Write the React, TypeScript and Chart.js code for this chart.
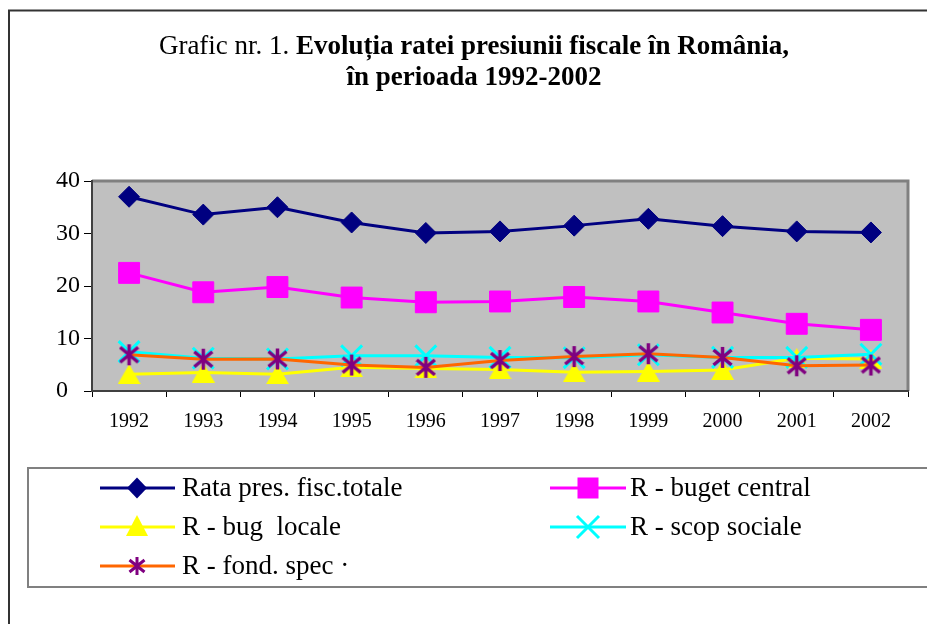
import React, { useEffect, useRef } from 'react';
import { Chart, registerables } from 'chart.js';

Chart.register(...registerables);

const years = ['1992', '1993', '1994', '1995', '1996', '1997', '1998', '1999', '2000', '2001', '2002'];
const rataTotala = [37.0, 33.6, 35.0, 32.1, 30.1, 30.4, 31.5, 32.8, 31.4, 30.4, 30.2];
const bugetCentral = [22.5, 18.8, 19.8, 17.8, 16.9, 17.05, 17.9, 17.05, 14.95, 12.8, 11.65];
const bugLocale = [3.2, 3.5, 3.2, 4.5, 4.3, 4.1, 3.55, 3.7, 4.0, 6.25, 6.1];
const scopSociale = [7.5, 6.25, 6.1, 6.7, 6.7, 6.4, 6.35, 6.9, 6.4, 6.4, 7.0];
const fondSpec = [6.9, 6.05, 6.1, 4.95, 4.5, 5.8, 6.55, 7.1, 6.4, 4.8, 4.95];

const seriesNames = [
  'Rata pres. fisc.totale',
  'R - buget central',
  'R - bug  locale',
  'R - scop sociale',
  'R - fond. spec ·',
];
const yTicks = [0, 10, 20, 30, 40];

const titleNormal = 'Grafic nr. 1. ';
const titleBold1 = 'Evoluția ratei presiunii fiscale în România,';
const titleBold2 = 'în perioada 1992-2002';

const SERIF = "'Liberation Serif', 'Times New Roman', serif";

function makeAsterisk(w: number, h: number, lw: number, color: string) {
  const c = document.createElement('canvas');
  c.width = w;
  c.height = h;
  const g = c.getContext('2d')!;
  g.strokeStyle = color;
  g.lineWidth = lw;
  const mx = w / 2;
  const my = h / 2;
  g.beginPath();
  g.moveTo(mx, 1);
  g.lineTo(mx, h - 1);
  const dx = w / 2 - 1.5;
  const dy = h / 2 - 4;
  g.moveTo(mx - dx, my - dy);
  g.lineTo(mx + dx, my + dy);
  g.moveTo(mx - dx, my + dy);
  g.lineTo(mx + dx, my - dy);
  g.stroke();
  return c;
}

function makeTriangle(w: number, h: number, color: string) {
  const c = document.createElement('canvas');
  c.width = w;
  c.height = h;
  const g = c.getContext('2d')!;
  g.fillStyle = color;
  g.beginPath();
  g.moveTo(w / 2, 0);
  g.lineTo(w, h);
  g.lineTo(0, h);
  g.closePath();
  g.fill();
  return c;
}

export default function App() {
  const ref = useRef<HTMLCanvasElement | null>(null);

  useEffect(() => {
    document.body.style.margin = '0';
    document.body.style.overflow = 'hidden';
    const canvas = ref.current!;

    const asteriskBig = makeAsterisk(21, 23, 3.5, '#800080');
    const asteriskSmall = makeAsterisk(18, 20, 3, '#800080');
    const triBig = makeTriangle(23, 20, '#FFFF00');
    const triSmall = makeTriangle(22, 21, '#FFFF00');

    const colors = ['#000080', '#FF00FF', '#FFFF00', '#00FFFF', '#FF6600'];
    const markerColors = ['#000080', '#FF00FF', '#FFFF00', '#00FFFF', '#800080'];

    const bgPlugin = {
      id: 'bgPlugin',
      beforeDraw(chart: any) {
        const { ctx, chartArea: a } = chart;
        ctx.save();
        ctx.fillStyle = '#ffffff';
        ctx.fillRect(0, 0, chart.width, chart.height);
        ctx.strokeStyle = '#333333';
        ctx.lineWidth = 2;
        ctx.beginPath();
        ctx.moveTo(9, chart.height + 2);
        ctx.lineTo(9, 10.5);
        ctx.lineTo(chart.width + 2, 10.5);
        ctx.stroke();
        ctx.fillStyle = '#C0C0C0';
        ctx.fillRect(a.left, a.top, a.right - a.left, a.bottom - a.top);
        ctx.strokeStyle = '#808080';
        ctx.lineWidth = 3;
        ctx.beginPath();
        ctx.moveTo(a.left, a.top);
        ctx.lineTo(a.right, a.top);
        ctx.lineTo(a.right, a.bottom);
        ctx.stroke();
        ctx.restore();
      },
    };

    const overlayPlugin = {
      id: 'overlayPlugin',
      afterDraw(chart: any) {
        const ctx = chart.ctx;
        ctx.save();
        const cx = 474;
        ctx.fillStyle = '#000';
        ctx.textBaseline = 'alphabetic';
        ctx.textAlign = 'left';
        ctx.font = `27px ${SERIF}`;
        const wN = ctx.measureText(titleNormal).width;
        ctx.font = `bold 27px ${SERIF}`;
        const wB = ctx.measureText(titleBold1).width;
        const x0 = cx - (wN + wB) / 2;
        ctx.font = `27px ${SERIF}`;
        ctx.fillText(titleNormal, x0, 54);
        ctx.font = `bold 27px ${SERIF}`;
        ctx.fillText(titleBold1, x0 + wN, 54);
        ctx.textAlign = 'center';
        ctx.fillText(titleBold2, cx, 85);

        ctx.strokeStyle = '#808080';
        ctx.lineWidth = 2;
        ctx.strokeRect(28, 468, 920, 119);

        const cols = [
          { lx0: 100, lx1: 175, mx: 137, tx: 182 },
          { lx0: 550, lx1: 626, mx: 588, tx: 630 },
        ];
        const rows = [488, 527, 566];
        ctx.font = `27px ${SERIF}`;
        ctx.textAlign = 'left';
        ctx.textBaseline = 'middle';
        chart.data.datasets.forEach((ds: any, i: number) => {
          const col = cols[i % 2];
          const y = rows[Math.floor(i / 2)];
          ctx.strokeStyle = colors[i];
          ctx.lineWidth = 3;
          ctx.beginPath();
          ctx.moveTo(col.lx0, y);
          ctx.lineTo(col.lx1, y);
          ctx.stroke();
          const mc = markerColors[i];
          ctx.fillStyle = mc;
          ctx.strokeStyle = mc;
          const m = col.mx;
          if (i === 0) {
            ctx.beginPath();
            ctx.moveTo(m, y - 10.5);
            ctx.lineTo(m + 10, y);
            ctx.lineTo(m, y + 10.5);
            ctx.lineTo(m - 10, y);
            ctx.closePath();
            ctx.fill();
          } else if (i === 1) {
            ctx.fillRect(m - 10.5, y - 10.5, 21, 21);
          } else if (i === 2) {
            ctx.drawImage(triSmall, m - 11, y - 12);
          } else if (i === 3) {
            ctx.lineWidth = 3;
            ctx.beginPath();
            ctx.moveTo(m - 11, y - 11);
            ctx.lineTo(m + 11, y + 11);
            ctx.moveTo(m - 11, y + 11);
            ctx.lineTo(m + 11, y - 11);
            ctx.stroke();
          } else {
            ctx.drawImage(asteriskSmall, m - 9, y - 10);
          }
          ctx.fillStyle = '#000';
          ctx.fillText(ds.label, col.tx, y + 1);
        });
        ctx.restore();
      },
    };

    const seriesData = [rataTotala, bugetCentral, bugLocale, scopSociale, fondSpec];
    const pointStyles: any[] = ['rectRot', 'rect', triBig, 'crossRot', asteriskBig];
    const pointRadii = [10.5, 14.8, 12, 14.8, 12];
    const pointBorderWidths = [1, 1, 0, 3, 0];
    const orders = [5, 4, 3, 2, 1];

    const datasets = seriesData.map((d, i) => ({
      label: seriesNames[i],
      data: d,
      borderColor: colors[i],
      backgroundColor: colors[i],
      borderWidth: 3,
      tension: 0,
      pointStyle: pointStyles[i],
      pointRadius: pointRadii[i],
      pointBorderWidth: pointBorderWidths[i],
      pointBackgroundColor: markerColors[i],
      pointBorderColor: markerColors[i],
      order: orders[i],
    }));

    const chart = new Chart(canvas, {
      type: 'line',
      data: { labels: years, datasets },
      options: {
        responsive: false,
        animation: false,
        events: [],
        layout: { padding: { left: 56, right: 19, top: 181, bottom: 193 } },
        plugins: {
          legend: { display: false },
          title: { display: false },
          tooltip: { enabled: false },
        },
        scales: {
          x: {
            type: 'category',
            offset: true,
            ticks: {
              color: '#000',
              font: { family: SERIF, size: 20 },
              padding: 13,
              maxRotation: 0,
              autoSkip: false,
            },
            grid: {
              offset: true,
              drawOnChartArea: false,
              drawTicks: true,
              tickLength: 6,
              color: '#000',
              lineWidth: 1,
            },
            border: { display: true, color: '#404040', width: 2 },
            afterFit: (s: any) => {
              s.height = 40;
            },
          },
          y: {
            min: 0,
            max: 40,
            ticks: {
              color: '#000',
              font: { family: SERIF, size: 24 },
              crossAlign: 'far',
              padding: 4,
            },
            afterBuildTicks: (s: any) => {
              s.ticks = yTicks.map((v) => ({ value: v }));
            },
            grid: {
              drawOnChartArea: false,
              drawTicks: true,
              tickLength: 8,
              color: '#000',
              lineWidth: 1,
            },
            border: { display: true, color: '#404040', width: 2 },
            afterFit: (s: any) => {
              s.width = 36;
            },
          },
        },
      },
      plugins: [bgPlugin, overlayPlugin],
    } as any);

    return () => chart.destroy();
  }, []);

  return (
    <div style={{ width: 927, height: 624 }}>
      <canvas ref={ref} width={927} height={624} style={{ display: 'block' }} />
    </div>
  );
}
